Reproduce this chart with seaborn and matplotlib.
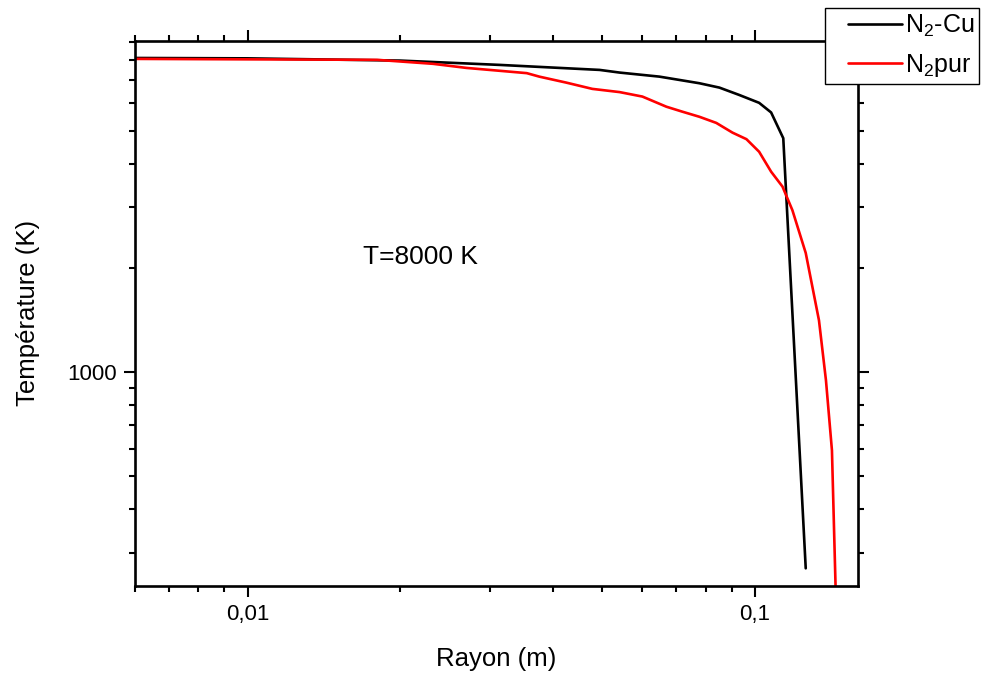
import matplotlib
matplotlib.use("Agg")
import matplotlib.pyplot as plt
import matplotlib.ticker as mticker
from matplotlib.legend_handler import HandlerLine2D
import numpy as np
import pandas as pd
import seaborn as sns

# Data (log-log axes)
rayon_cu = [0.0060, 0.0100, 0.0200, 0.0314, 0.0451, 0.0494, 0.0541, 0.0648,
            0.0777, 0.0851, 0.0931, 0.1019, 0.1076, 0.1137, 0.1259]
temp_cu = [8110, 8090, 7970, 7744, 7540, 7490, 7358, 7162,
           6853, 6656, 6338, 6014, 5640, 4750, 270]

rayon_pur = [0.0060, 0.0180, 0.0232, 0.0270, 0.0355, 0.0376, 0.0425, 0.0478,
             0.0541, 0.0600, 0.0669, 0.0719, 0.0777, 0.0839, 0.0903, 0.0962,
             0.1019, 0.1076, 0.1133, 0.1185, 0.1259, 0.1337, 0.1380, 0.1418,
             0.1442]
temp_pur = [8060, 8010, 7800, 7590, 7330, 7160, 6880, 6600,
            6460, 6270, 5860, 5670, 5480, 5260, 4930, 4720,
            4340, 3800, 3440, 2940, 2210, 1410, 946, 593,
            235]

labels = ["N$_2$-Cu", "N$_2$pur"]
colors = ["black", "#ff0000"]

df = pd.concat([
    pd.DataFrame({"Rayon": rayon_cu, "T": temp_cu, "serie": labels[0]}),
    pd.DataFrame({"Rayon": rayon_pur, "T": temp_pur, "serie": labels[1]}),
])


class LeftPaddedLine(HandlerLine2D):
    # legend line starts a bit right of the handle box edge, like Origin does
    def get_xdata(self, legend, xdescent, ydescent, width, height, fontsize):
        x0 = -xdescent + 0.25 * width
        x1 = -xdescent + width
        return [x0, x1], [(x0 + x1) / 2]


sns.set_theme(style="ticks")
plt.rcParams["font.family"] = ["Liberation Sans", "DejaVu Sans"]
plt.rcParams["mathtext.default"] = "regular"
for key in ["text.color", "axes.labelcolor", "xtick.color", "ytick.color"]:
    plt.rcParams[key] = "black"

fig = plt.figure(figsize=(9.85, 6.75), dpi=100)
ax = fig.add_axes([135 / 985, 1 - 586 / 675, (858 - 135) / 985, (586 - 40.7) / 675])

sns.lineplot(data=df, x="Rayon", y="T", hue="serie", palette=colors,
             estimator=None, sort=False, linewidth=1.9, ax=ax, legend=False)

ax.set_xscale("log")
ax.set_yscale("log")
ax.set_xlim(0.0060, 0.1596)
ax.set_ylim(240, 9100)

ax.xaxis.set_major_locator(mticker.FixedLocator([0.01, 0.1]))
ax.xaxis.set_minor_locator(mticker.LogLocator(base=10, subs=np.arange(2, 10)))
ax.xaxis.set_major_formatter(mticker.FixedFormatter(["0,01", "0,1"]))
ax.xaxis.set_minor_formatter(mticker.NullFormatter())
ax.yaxis.set_major_locator(mticker.FixedLocator([1000]))
ax.yaxis.set_minor_locator(mticker.LogLocator(base=10, subs=np.arange(2, 10)))
ax.yaxis.set_major_formatter(mticker.FixedFormatter(["1000"]))
ax.yaxis.set_minor_formatter(mticker.NullFormatter())

for s in ax.spines.values():
    s.set_linewidth(1.9)
    s.set_color("black")
ax.tick_params(which="both", direction="out", top=True, right=True,
               width=1.5, colors="black", labelsize=16)
ax.tick_params(which="major", length=8, pad=5)
ax.tick_params(which="minor", length=4.5)

ax.set_xlabel("Rayon (m)", fontsize=18.5, labelpad=16)
ax.set_ylabel("Température (K)", fontsize=18.5, labelpad=20)

ax.text(0.0219, 2150, "T=8000 K", fontsize=19, ha="center", va="center")

handles = [plt.Line2D([], [], color=c, lw=1.9) for c in colors]
leg = fig.legend(handles, labels, loc="upper right",
                 bbox_to_anchor=(979 / 985, 1 - 8 / 675),
                 fontsize=18, frameon=True, fancybox=False, framealpha=1,
                 handlelength=2.88, handletextpad=0.12, labelspacing=0.52,
                 borderpad=0.2, borderaxespad=0,
                 handler_map={plt.Line2D: LeftPaddedLine()})
leg.get_frame().set_edgecolor("black")
leg.get_frame().set_linewidth(1.0)

fig.savefig("out.png", dpi=100)
plt.close(fig)
